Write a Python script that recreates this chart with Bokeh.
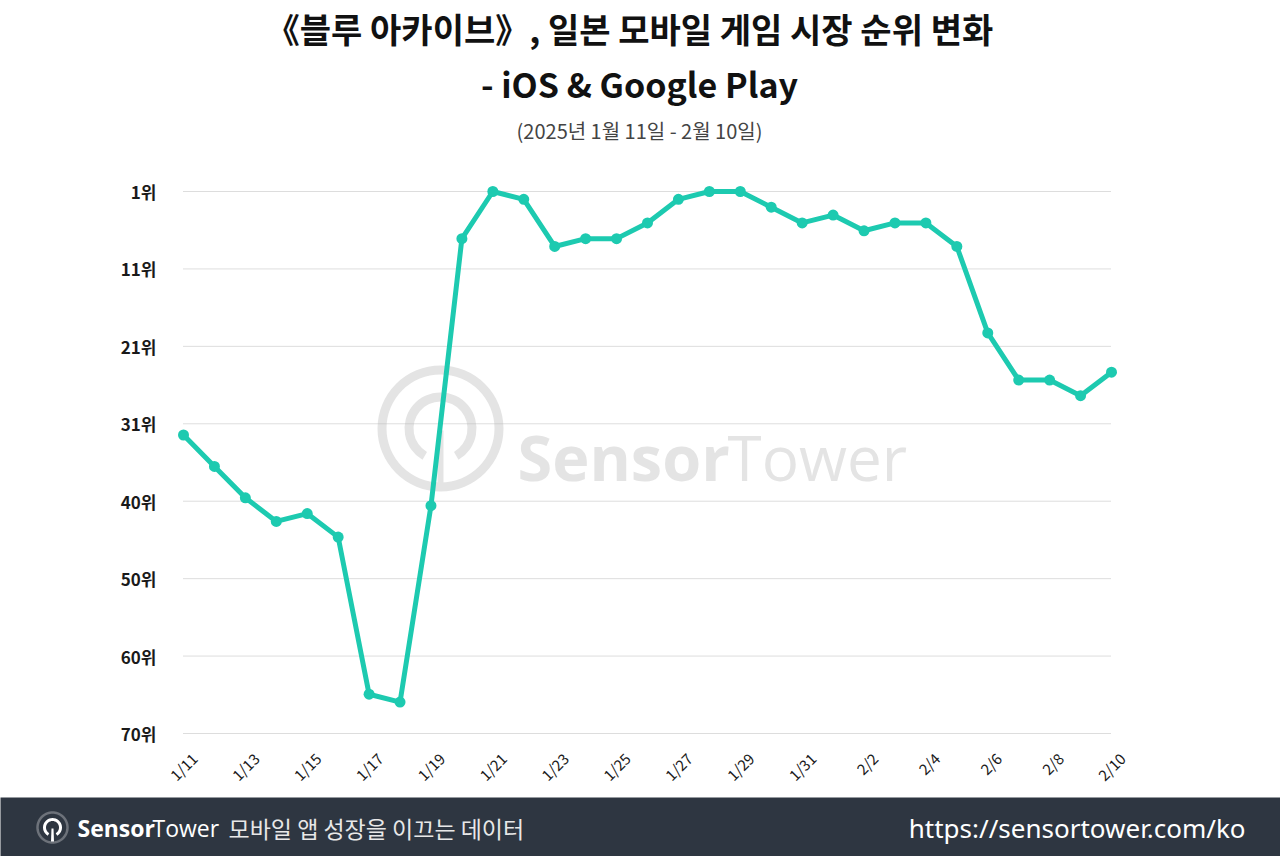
import math
from bokeh.plotting import figure
from bokeh.models import (Range1d, FixedTicker, CustomJSTickFormatter, Label,
                          BoxAnnotation, PolyAnnotation)
from bokeh.core.properties import value
from bokeh.embed import file_html
from bokeh.resources import INLINE

# ---------------- data ----------------
dates = ["1/11", "1/12", "1/13", "1/14", "1/15", "1/16", "1/17", "1/18", "1/19", "1/20",
         "1/21", "1/22", "1/23", "1/24", "1/25", "1/26", "1/27", "1/28", "1/29", "1/30",
         "1/31", "2/1", "2/2", "2/3", "2/4", "2/5", "2/6", "2/7", "2/8", "2/9", "2/10"]
ranks = [32, 36, 40, 43, 42, 45, 65, 66, 41, 7,
         1, 2, 8, 7, 7, 5, 2, 1, 1, 3,
         5, 4, 6, 5, 5, 8, 19, 25, 25, 27, 24]
y_tick_values = [1 + k * 69 / 7 for k in range(8)]
y_tick_labels = ["1위", "11위", "21위", "31위", "40위", "50위", "60위", "70위"]
x_label_dates = dates[::2]

title_line1 = "《블루 아카이브》, 일본 모바일 게임 시장 순위 변화"
title_line2 = "- iOS & Google Play"
subtitle = "(2025년 1월 11일 - 2월 10일)"
footer_tagline = "모바일 앱 성장을 이끄는 데이터"
footer_url = "https://sensortower.com/ko"

TEAL = "#1DCAB0"
KR = "Noto Sans CJK KR"
W, H = 1280, 856

xs = list(range(len(dates)))

# pixel scale of the chart area (first date at x=183, last at x=1111; rank 1 at y=191, 70 at y=733)
PX_DAY = 928 / 30
PX_RANK = 542 / 69


def dx(px):  # canvas pixel -> x data coordinate (decoration placement only)
    return (px - 183) / PX_DAY


def dy(py):  # canvas pixel -> y data coordinate (decoration placement only)
    return 1 + (py - 191) / PX_RANK


# frame covers the whole canvas; axes are pinned inside it with fixed_location
p = figure(width=W, height=H,
           x_range=Range1d(dx(0), dx(W)), y_range=Range1d(dy(H), dy(0)),
           output_backend="svg", toolbar_location=None, min_border=0)
p.title.visible = False
p.outline_line_color = None
p.grid.visible = False

# watermark
wx, wy = dx(440), dy(428)
WM = "#E4E4E4"
p.annulus(x=[wx], y=[wy], inner_radius=54, outer_radius=63,
          inner_radius_units="screen", outer_radius_units="screen",
          fill_color=WM, line_color=None)
p.annular_wedge(x=[wx], y=[wy], inner_radius=27, outer_radius=36,
                inner_radius_units="screen", outer_radius_units="screen",
                start_angle=-math.pi / 3, end_angle=-2 * math.pi / 3, direction="anticlock",
                fill_color=WM, line_color=None)
p.segment(x0=[wx], y0=[dy(430)], x1=[wx], y1=[dy(486)], line_color=WM, line_width=6)
p.text(x=[dx(517)], y=[dy(456)], text=["Sensor"],
       text_font=value("Open Sans"), text_font_style="bold", text_font_size="63px",
       text_color=WM, text_baseline="alphabetic")
p.text(x=[dx(727)], y=[dy(456)], text=["Tower"],
       text_font=value("Open Sans"), text_font_size="62px",
       text_color=WM, text_baseline="alphabetic")

# grid lines
p.segment(x0=[0] * len(y_tick_values), x1=[len(dates) - 1] * len(y_tick_values),
          y0=y_tick_values, y1=y_tick_values,
          line_color="#BBBBBB", line_width=1, line_dash="1 1")

p.line(xs, ranks, line_color=TEAL, line_width=5, line_join="round")
p.scatter(xs, ranks, size=11, fill_color=TEAL, line_color=None)

# axes
p.yaxis.fixed_location = dx(167)
p.xaxis.fixed_location = dy(743)
p.yaxis.ticker = FixedTicker(ticks=y_tick_values)
p.yaxis.formatter = CustomJSTickFormatter(args=dict(labels=y_tick_labels),
                                          code="return labels[index];")
# rotated labels are end-anchored: shift the anchor so each label is centred on its date
p.xaxis.ticker = FixedTicker(ticks=[i + 0.35 for i in range(0, len(dates), 2)])
p.xaxis.formatter = CustomJSTickFormatter(args=dict(labels=x_label_dates),
                                          code="return labels[index];")
p.xaxis.major_label_orientation = math.pi / 4
for ax in (p.xaxis, p.yaxis):
    ax.axis_line_color = None
    ax.major_tick_line_color = None
    ax.minor_tick_line_color = None
    ax.major_label_text_font = KR
    ax.major_label_text_color = "#1A1A1A"
p.yaxis.major_label_text_font_size = "17px"
p.yaxis.major_label_text_font_style = "bold"
p.yaxis.major_label_standoff = 5
p.xaxis.major_label_text_font_size = "15px"
p.xaxis.major_label_standoff = 6


def label(px, py, text, **kw):
    p.add_layout(Label(x=dx(px), y=dy(py), text=text, text_baseline="middle", **kw))


# ---------------- header ----------------
label(629, 28, title_line1, text_font=KR, text_font_style="bold", text_font_size="34px",
      text_align="center", text_color="#111111")
label(639, 83, title_line2, text_font=KR, text_font_style="bold", text_font_size="34px",
      text_align="center", text_color="#111111")
label(639, 130, subtitle, text_font=KR, text_font_size="20px",
      text_align="center", text_color="#444444")

# ---------------- footer ----------------
FOOT = "#2E3641"
p.add_layout(BoxAnnotation(left=dx(-5), right=dx(W + 5), top=dy(797), bottom=dy(H + 5),
                           fill_color=FOOT, fill_alpha=1, line_color=None))
cx, cy = 52, 827
ring = [(cx + 15 * math.cos(t * math.pi / 36), cy - 15 * math.sin(t * math.pi / 36)) for t in range(72)]
p.add_layout(PolyAnnotation(xs=[dx(a) for a, b in ring], ys=[dy(b) for a, b in ring],
                            fill_alpha=0, line_color="white", line_width=2.5))
angs = [(-60 + 10 * k) * math.pi / 180 for k in range(31)]
outer = [(cx + 9.5 * math.cos(a), cy - 9.5 * math.sin(a)) for a in angs]
inner = [(cx + 6.5 * math.cos(a), cy - 6.5 * math.sin(a)) for a in reversed(angs)]
arc = outer + inner
p.add_layout(PolyAnnotation(xs=[dx(a) for a, b in arc], ys=[dy(b) for a, b in arc],
                            fill_color="white", fill_alpha=1, line_color=None))
stem = [(cx - 1, cy + 1), (cx + 1, cy + 1), (cx + 1.5, cy + 14), (cx - 1.5, cy + 14)]
p.add_layout(PolyAnnotation(xs=[dx(a) for a, b in stem], ys=[dy(b) for a, b in stem],
                            fill_color="white", fill_alpha=1, line_color=None))
label(77, cy, "Sensor", text_font="Open Sans", text_font_style="bold", text_font_size="23px",
      text_color="white")
label(152, cy, "Tower", text_font="Open Sans", text_font_size="23px", text_color="white")
label(228, cy, footer_tagline, text_font=KR, text_font_size="23px", text_color="#E8E8E8")
label(1245, cy, footer_url, text_font="Noto Sans", text_font_size="26px",
      text_color="white", text_align="right")

open("out.html", "w").write(file_html(p, INLINE))
